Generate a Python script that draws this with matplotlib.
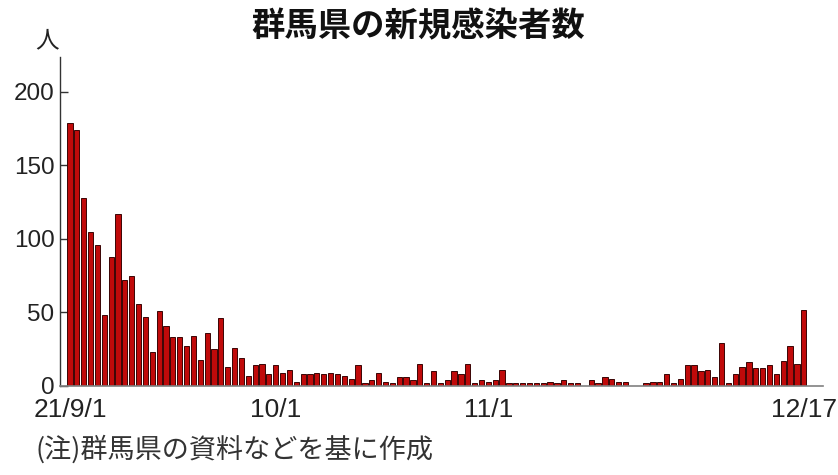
import matplotlib
matplotlib.use("Agg")
import matplotlib.pyplot as plt
import numpy as np

# Daily new cases, 2021/9/1 .. 2021/12/17
cases = [
    179, 174, 128, 105, 96, 48, 88, 117, 72, 75,
    56, 47, 23, 51, 41, 33, 33, 27, 34, 18,
    36, 25, 46, 13, 26, 19, 7, 14, 15, 8,
    14, 9, 11, 3, 8, 8, 9, 8, 9, 8,
    7, 5, 14, 2, 4, 9, 3, 2, 6, 6,
    4, 15, 2, 10, 2, 4, 10, 8, 15, 2,
    4, 3, 4, 11, 2, 2, 2, 2, 2, 2,
    3, 2, 4, 2, 2, 0, 4, 2, 6, 5,
    3, 3, 0, 0, 2, 3, 3, 8, 2, 5,
    14, 14, 10, 11, 6, 29, 2, 8, 13, 16,
    12, 12, 14, 8, 17, 27, 15, 52,
]
tick_pos = [0, 30, 61, 107]
tick_labels = ["21/9/1", "10/1", "11/1", "12/17"]
y_ticks = [0, 50, 100, 150, 200]

title = "群馬県の新規感染者数"
unit = "人"
note = "(注)群馬県の資料などを基に作成"

W, H = 838, 475
fig = plt.figure(figsize=(W / 100, H / 100), dpi=100)
ax = fig.add_axes([60 / W, 1 - 386 / H, (823 - 60) / W, (386 - 57) / H])

x = np.arange(len(cases))
ax.bar(x, cases, width=0.76, color="#C00A0A", edgecolor="#3a0505", linewidth=0.7, zorder=2)

ax.set_xlim(-1.46, 109.8)
ax.set_ylim(0, 223.8)

for s in ["top", "right"]:
    ax.spines[s].set_visible(False)
ax.spines["left"].set_color("#333333")
ax.spines["left"].set_linewidth(1.0)
ax.spines["bottom"].set_color("#808080")
ax.spines["bottom"].set_linewidth(1.2)

num_font = ["Liberation Sans Narrow", "Liberation Sans", "DejaVu Sans"]
ax.set_yticks(y_ticks)
ax.set_yticklabels([str(v) for v in y_ticks], family=num_font, fontsize=17.5, color="#222222")
ax.tick_params(axis="y", direction="in", length=6, width=1.0, color="#333333", pad=4)

ax.set_xticks(tick_pos)
ax.set_xticklabels(tick_labels, family=num_font, fontsize=19, color="#222222")
ax.tick_params(axis="x", length=0, pad=8.5)

cjk = ["Noto Sans CJK JP", "DejaVu Sans"]
fig.text(418 / W, 1 - 27 / H, title, ha="center", va="center", fontsize=24,
         fontweight="bold", family=cjk, color="#111111")
fig.text(47 / W, 1 - 41 / H, unit, ha="center", va="center", fontsize=17,
         family=cjk, color="#222222")
fig.text(36 / W, 1 - 449 / H, note, ha="left", va="center", fontsize=19.5,
         family=cjk, color="#333333")

fig.savefig("out.png", dpi=100)
